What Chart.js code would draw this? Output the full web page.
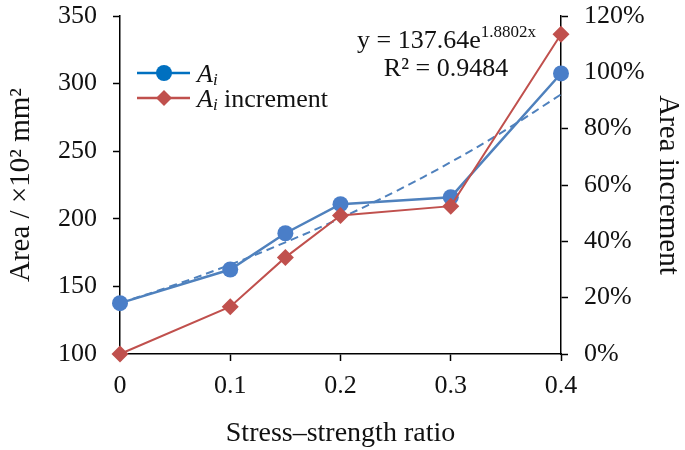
<!DOCTYPE html>
<html><head><meta charset="utf-8">
<script src="https://cdn.jsdelivr.net/npm/chart.js@4/dist/chart.umd.min.js"></script>
<style>html,body{margin:0;padding:0;background:#fff}#wrap{width:685px;height:450px}</style>
</head><body><div id="wrap"><canvas id="c" width="685" height="450"></canvas></div>
<script>
const xValues = [0, 0.1, 0.15, 0.2, 0.3, 0.4];
const areaValues = [137.6, 162.5, 189.3, 210.8, 216.0, 307.5];
const incrementValues = [0, 16.8, 34.3, 49.2, 52.5, 113.5];
const trendX = [0, 0.05, 0.1, 0.15, 0.2, 0.25, 0.3, 0.35, 0.4];
const trendValues = [137.6, 151.2, 166.1, 182.6, 200.5, 220.3, 241.9, 265.8, 292.0];
const xTicks = [0, 0.1, 0.2, 0.3, 0.4];
const FONT = "'Liberation Serif', 'Times New Roman', serif";
const BLUE = '#4F81BD', BLUE_M = '#4A7EC8', RED = '#C0504D';

const pts = (xs, ys) => xs.map((x, i) => ({x, y: ys[i]}));

const overlay = {
  id: 'overlay',
  afterDraw(chart) {
    const ctx = chart.ctx;
    ctx.save();
    const items = [
      {y: 73, color: '#0070C0', style: 'circle', label: ''},
      {y: 98, color: RED, style: 'rectRot', label: ' increment'}
    ];
    items.forEach(it => {
      ctx.strokeStyle = it.color; ctx.lineWidth = 2.5;
      ctx.beginPath(); ctx.moveTo(137, it.y); ctx.lineTo(190, it.y); ctx.stroke();
      ctx.fillStyle = it.color;
      Chart.helpers.drawPoint(ctx, {pointStyle: it.style, radius: 8, borderWidth: 0}, 164, it.y);
      ctx.fillStyle = '#111';
      ctx.textBaseline = 'alphabetic'; ctx.textAlign = 'left';
      ctx.font = 'italic 26px ' + FONT;
      ctx.fillText('A', 197, it.y + 9);
      let w = ctx.measureText('A').width;
      ctx.font = 'italic 17px ' + FONT;
      ctx.fillText('i', 197 + w, it.y + 12);
      let w2 = ctx.measureText('i').width;
      if (it.label) {
        ctx.font = '26px ' + FONT;
        ctx.fillText(it.label, 197 + w + w2, it.y + 9);
      }
    });
    ctx.fillStyle = '#111';
    const t1 = 'y = 137.64e';
    ctx.font = '26px ' + FONT;
    const w1 = ctx.measureText(t1).width;
    const x0 = 357;
    ctx.fillText(t1, x0, 48);
    ctx.font = '17px ' + FONT;
    ctx.fillText('1.8802x', x0 + w1, 37);
    ctx.font = '26px ' + FONT;
    ctx.textAlign = 'center';
    ctx.fillText('R² = 0.9484', 446, 76);
    ctx.restore();
  }
};

const gridOpts = {display: true, drawOnChartArea: false, drawTicks: true, tickLength: 7, tickColor: '#000', tickWidth: 1.5};

new Chart(document.getElementById('c'), {
  type: 'line',
  data: {
    datasets: [
      {label: 'trend', data: pts(trendX, trendValues), yAxisID: 'y', borderColor: BLUE, borderWidth: 2,
       borderDash: [8, 5], pointRadius: 0, tension: 0.4, order: 3, clip: false},
      {label: 'Ai', data: pts(xValues, areaValues), yAxisID: 'y', borderColor: BLUE, backgroundColor: BLUE_M,
       borderWidth: 2.5, pointRadius: 8, pointStyle: 'circle', pointBorderWidth: 0, order: 2, clip: false},
      {label: 'Ai increment', data: pts(xValues, incrementValues), yAxisID: 'y1', borderColor: RED, backgroundColor: RED,
       borderWidth: 2, pointRadius: 8.5, pointStyle: 'rectRot', pointBorderWidth: 0, order: 1, clip: false}
    ]
  },
  options: {
    responsive: false, animation: false, events: [],
    layout: {padding: {top: 16, left: 0, right: 0, bottom: 0}},
    plugins: {legend: {display: false}, tooltip: {enabled: false}},
    scales: {
      x: {
        type: 'linear', min: 0, max: 0.4,
        afterBuildTicks: s => { s.ticks = xTicks.map(v => ({value: v})); },
        grid: gridOpts,
        border: {color: '#000', width: 1.5},
        ticks: {color: '#111', font: {family: FONT, size: 26}, padding: 10, maxRotation: 0,
                callback: v => String(v)},
        title: {display: true, text: 'Stress–strength ratio', color: '#111', font: {family: FONT, size: 28}, padding: {top: 16, bottom: 0}},
        afterFit: s => { s.height = 96; s.paddingLeft = 0; s.paddingRight = 0; }
      },
      y: {
        position: 'left', min: 100, max: 350,
        ticks: {stepSize: 50, color: '#111', font: {family: FONT, size: 26}, padding: 16},
        grid: gridOpts,
        border: {color: '#000', width: 1.5},
        title: {display: true, text: 'Area / ×10² mm²', color: '#111', font: {family: FONT, size: 29}, padding: {top: 4, bottom: 0}},
        afterFit: s => { s.width = 120; s.paddingTop = 0; s.paddingBottom = 0; }
      },
      y1: {
        position: 'right', min: 0, max: 120,
        ticks: {stepSize: 20, color: '#111', font: {family: FONT, size: 26}, padding: 16, callback: v => v + '%'},
        grid: gridOpts,
        border: {color: '#000', width: 1.5},
        title: {display: true, text: 'Area increment', color: '#111', font: {family: FONT, size: 29}, padding: {top: 0, bottom: 2}},
        afterFit: s => { s.width = 124; s.paddingTop = 0; s.paddingBottom = 0; }
      }
    }
  },
  plugins: [overlay]
});
</script></body></html>
